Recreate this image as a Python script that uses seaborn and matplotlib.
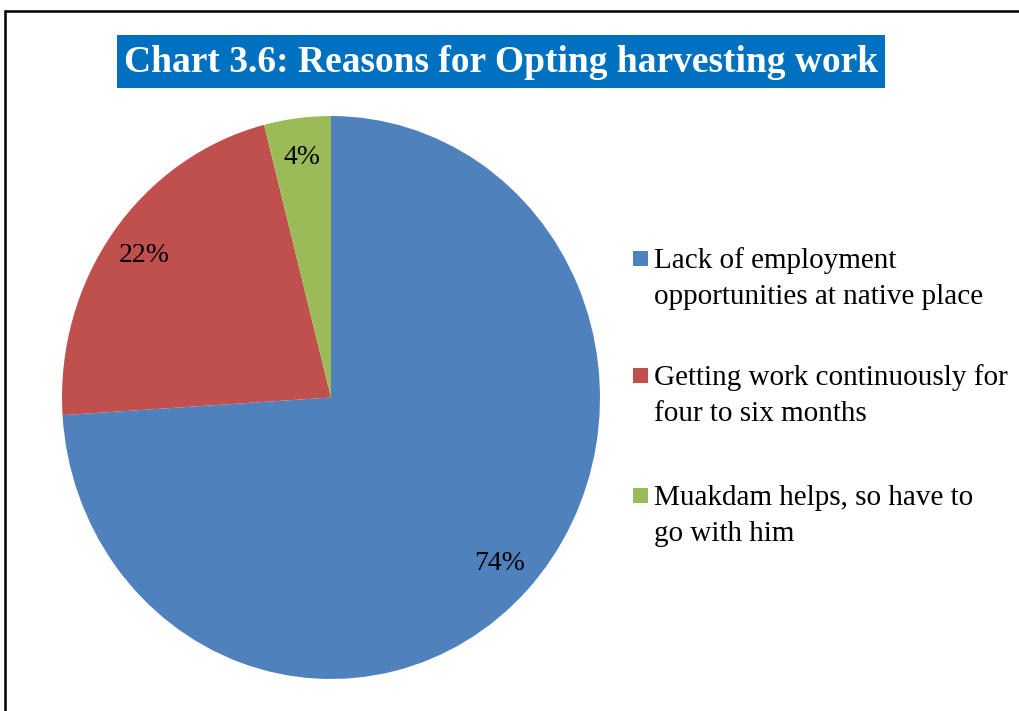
import matplotlib
matplotlib.use("Agg")
import matplotlib.pyplot as plt
from matplotlib.patches import Rectangle
from matplotlib.lines import Line2D
import seaborn as sns

# Survey shares of reasons for opting harvesting work
reasons = [
    "Lack of employment\nopportunities at native place",
    "Getting work continuously for\nfour to six months",
    "Muakdam helps, so have to\ngo with him",
]
shares = [74, 22, 4]
title = "Chart 3.6: Reasons for Opting harvesting work"

sns.set_theme(style="white")
plt.rcParams["font.family"] = ["Liberation Serif", "DejaVu Serif"]

colors = sns.color_palette(["#4F81BD", "#C0504D", "#9BBB59"])

W, H = 1019, 711
fig = plt.figure(figsize=(W / 100, H / 100), dpi=100)
fig.patch.set_facecolor("white")


def fx(px):
    return px / W


def fy(py):
    return 1 - py / H


# pie area in pixel coordinates (left, top, right, bottom)
pl, pt, pr, pb = 62, 116, 600, 679
ax = fig.add_axes([fx(pl), fy(pb), (pr - pl) / W, (pb - pt) / H])
wedges, _, autotexts = ax.pie(
    shares,
    colors=colors,
    startangle=90,
    counterclock=False,
    autopct=lambda p: f"{p:.0f}%",
    pctdistance=0.86,
    wedgeprops=dict(linewidth=0),
    textprops=dict(fontsize=20, color="black"),
)
ax.set_aspect("auto")
ax.set_xlim(-1, 1)
ax.set_ylim(-1, 1)
ax.axis("off")

# title banner
bx0, by0, bx1, by1 = 117, 35, 885, 88
fig.add_artist(Rectangle((fx(bx0), fy(by1)), (bx1 - bx0) / W, (by1 - by0) / H,
                         transform=fig.transFigure, facecolor="#0070C0",
                         edgecolor="none"))
fig.text(fx((bx0 + bx1) / 2), fy((by0 + by1) / 2 + 1), title,
         ha="center", va="center", color="white", fontsize=27,
         fontweight="bold")

# chart frame (top and left edges)
fig.add_artist(Line2D([fx(5), 1.0], [fy(11), fy(11)],
                      transform=fig.transFigure, color="black", lw=1.8))
fig.add_artist(Line2D([fx(5), fx(5)], [0.0, fy(11)],
                      transform=fig.transFigure, color="black", lw=1.8))

# legend: square key aligned with the first line of each entry
entry_top = [268, 385, 505]   # baseline of first line, px
line_step = 36
for c, label, base in zip(colors, reasons, entry_top):
    fig.add_artist(Rectangle((fx(633), fy(base - 2)), 15 / W, 15 / H,
                             transform=fig.transFigure, facecolor=c,
                             edgecolor="none"))
    for i, line in enumerate(label.split("\n")):
        fig.text(fx(654), fy(base + i * line_step), line, ha="left",
                 va="baseline", fontsize=21, color="black")

fig.savefig("out.png", dpi=100, facecolor="white")
